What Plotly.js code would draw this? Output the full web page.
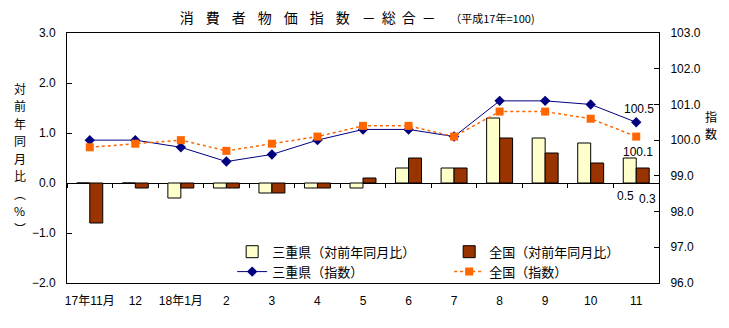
<!DOCTYPE html>
<html><head><meta charset="utf-8">
<script src="https://cdn.plot.ly/plotly-3.0.1.min.js"></script>
<style>html,body{margin:0;padding:0;background:#fff;}#chart{width:729px;height:328px;}</style>
</head><body><div id="chart"></div>
<script>
var categories = ['17年11月','12','18年1月','2','3','4','5','6','7','8','9','10','11'];
var mieYoY      = [0.0, 0.0, -0.3, -0.1, -0.2, -0.1, -0.1, 0.3, 0.3, 1.3, 0.9, 0.8, 0.5];
var nationalYoY = [-0.8, -0.1, -0.1, -0.1, -0.2, -0.1, 0.1, 0.5, 0.3, 0.9, 0.6, 0.4, 0.3];
var mieIndex      = [100.0, 100.0, 99.8, 99.4, 99.6, 100.0, 100.3, 100.3, 100.1, 101.1, 101.1, 101.0, 100.5];
var nationalIndex = [99.8, 99.9, 100.0, 99.7, 99.9, 100.1, 100.4, 100.4, 100.1, 100.8, 100.8, 100.6, 100.1];
var leftTicks = [-2, -1, 0, 1, 2, 3];
var rightTicks = [96, 97, 98, 99, 100, 101, 102, 103];
var leftTitleChars = ['対','前','年','同','月','比','︵','%','︶'];
var rightTitleChars = ['指','数'];

var FONT = 'Liberation Sans, Noto Sans CJK JP, sans-serif';
var JFONT = 'Noto Sans CJK JP, sans-serif';
var last = categories.length - 1;

var traces = [
  {type:'bar', name:'三重県（対前年同月比）', x:categories, y:mieYoY, yaxis:'y',
   marker:{color:'#FFFFCC', line:{color:'#000', width:1}}},
  {type:'bar', name:'全国（対前年同月比）', x:categories, y:nationalYoY, yaxis:'y',
   marker:{color:'#993300', line:{color:'#000', width:1}}},
  {type:'scatter', mode:'lines+markers', name:'三重県（指数）', x:categories, y:mieIndex, yaxis:'y2',
   line:{color:'#000080', width:1}, marker:{symbol:'diamond', size:8, color:'#000080'}},
  {type:'scatter', mode:'lines+markers', name:'全国（指数）', x:categories, y:nationalIndex, yaxis:'y2',
   line:{color:'#FF6600', width:1.5, dash:'dot'}, marker:{symbol:'square', size:8, color:'#FF6600'}},
  {type:'scatter', mode:'markers', x:categories, y:mieYoY, xaxis:'x2', yaxis:'y',
   marker:{opacity:0}, showlegend:false, hoverinfo:'skip'}
];

var annotations = [
  {xref:'x', yref:'y2', x:last, y:mieIndex[last], showarrow:false, yshift:13, xshift:3,
   text:mieIndex[last].toFixed(1), font:{family:FONT, size:12}},
  {xref:'x', yref:'y2', x:last, y:nationalIndex[last], showarrow:false, yshift:-15, xshift:2,
   text:nationalIndex[last].toFixed(1), font:{family:FONT, size:12}},
  {xref:'x', yref:'y', x:last, y:0, showarrow:false, yshift:-13, xshift:-11,
   text:mieYoY[last].toFixed(1), font:{family:FONT, size:12}},
  {xref:'x', yref:'y', x:last, y:0, showarrow:false, yshift:-16, xshift:11,
   text:nationalYoY[last].toFixed(1), font:{family:FONT, size:12}}
];
var step = 17.5;
leftTitleChars.forEach(function(c, i){
  annotations.push({xref:'paper', yref:'paper', x:-0.0794, xanchor:'center', y:0.5, yanchor:'middle',
    yshift:((leftTitleChars.length-1)/2 - i)*step, showarrow:false, text:c, borderpad:0,
    font:{family:JFONT, size:12}});
});
rightTitleChars.forEach(function(c, i){
  annotations.push({xref:'paper', yref:'paper', x:1.088, xanchor:'center', y:0.632, yanchor:'middle',
    yshift:((rightTitleChars.length-1)/2 - i)*step, showarrow:false, text:c, borderpad:0,
    font:{family:JFONT, size:12}});
});

var layout = {
  width:729, height:328,
  margin:{l:67, r:70, t:33, b:45},
  paper_bgcolor:'#fff', plot_bgcolor:'#fff',
  font:{family:FONT, size:12, color:'#000'},
  showlegend:true,
  barmode:'group', bargap:0.43, bargroupgap:0,
  title:{text:'<span style="letter-spacing:12px">消費者物価指数</span><span style="letter-spacing:6px">－総合－</span>　<span style="font-size:11px">（平成17年=100)</span>',
         font:{family:JFONT, size:14, color:'#000'}, x:0.49, xanchor:'center', y:0.945, yanchor:'middle'},
  xaxis:{type:'category', range:[-0.5, 12.5], showline:true, mirror:true, linecolor:'#000', linewidth:1,
         ticks:'', showgrid:false, tickfont:{family:FONT, size:12}, ticklabelstandoff:7},
  xaxis2:{type:'category', overlaying:'x', anchor:'free', position:0.4, range:[-0.5,12.5],
          categoryorder:'array', categoryarray:categories,
          ticks:'outside', tickson:'boundaries', ticklen:4, tickcolor:'#000', showticklabels:false,
          showline:false, showgrid:false, zeroline:false},
  yaxis:{range:[-2, 3], tickvals:leftTicks, tickformat:'.1f', ticks:'inside', ticklen:5, tickcolor:'#000',
         showline:true, linecolor:'#000', showgrid:false, zeroline:true, zerolinecolor:'#000', zerolinewidth:1,
         tickfont:{family:FONT, size:12}, ticklabelstandoff:8},
  yaxis2:{range:[96, 103], tickvals:rightTicks, tickformat:'.1f', overlaying:'y', side:'right', ticks:'inside',
          ticklen:5, tickcolor:'#000', showline:true, linecolor:'#000', showgrid:false, zeroline:false,
          tickfont:{family:FONT, size:12}, ticklabelstandoff:8},
  legend:{orientation:'h', x:0.279, xanchor:'left', y:-0.015, yanchor:'bottom', bgcolor:'rgba(0,0,0,0)',
          font:{family:JFONT, size:13}, entrywidth:172, traceorder:'normal', itemwidth:30, tracegroupgap:0},
  annotations:annotations
};

Plotly.newPlot('chart', traces, layout, {staticPlot:true, displayModeBar:false});
</script>
</body></html>
